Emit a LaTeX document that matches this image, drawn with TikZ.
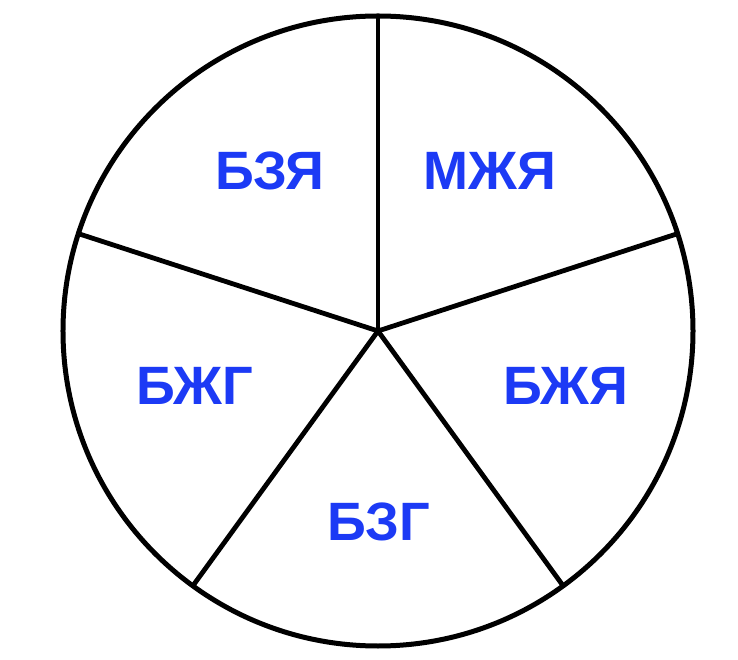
\documentclass[tikz,border=0pt]{standalone}
\usepackage{fontspec}
\setmainfont{Liberation Sans}
\usetikzlibrary{positioning, calc}
\definecolor{labelblue}{RGB}{28,58,245}

\begin{document}
\begin{tikzpicture}[x=1pt,y=1pt,
		rim/.style={line width=5pt},
		spoke/.style={line width=4.8pt},
		sector/.style={inner sep=0pt, text=labelblue, font=\fontsize{54}{54}\selectfont\bfseries}]
		\useasboundingbox (-378,-329) rectangle (360,331);
		\coordinate		(center)	at (0,0);
		
		\draw[rim] (center) circle (315);
		
		\coordinate		(top)		at (90:315);
		\coordinate		(right)		at (18:315);
		\coordinate		(low right)	at (-54:315);
		\coordinate		(low left)	at (-126:315);
		\coordinate		(left)		at (162:315);
		\draw[spoke] (center) -- (top);
		\draw[spoke] (center) -- (right);
		\draw[spoke] (center) -- (low right);
		\draw[spoke] (center) -- (low left);
		\draw[spoke] (center) -- (left);
		
		\node[sector]	(bzya)	at (-108,160.5)	{БЗЯ};
		\node[sector]	(mzhya)	at (112,160.5)	{МЖЯ};
		\node[sector]	(bzhya)	at (188,-55)	{БЖЯ};
		\node[sector]	(bzg)	at (1,-191)		{БЗГ};
		\node[sector]	(bzhg)	at (-183.5,-55)	{БЖГ};
		
		\end{tikzpicture}
\end{document}
